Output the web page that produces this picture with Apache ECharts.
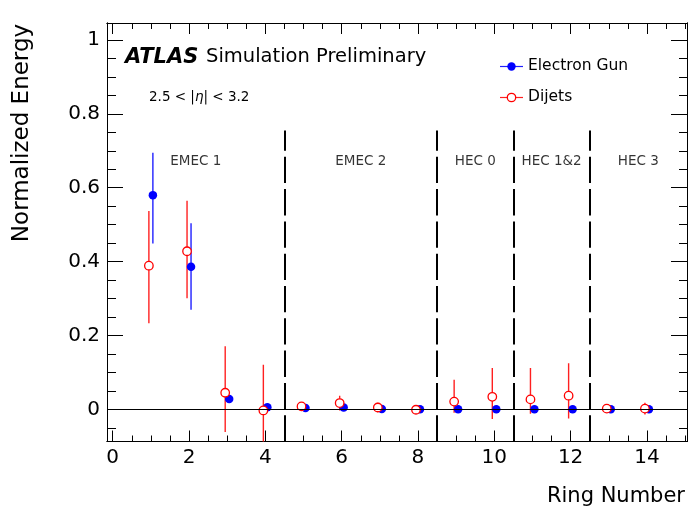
<!DOCTYPE html>
<html><head><meta charset="utf-8">
<script src="https://cdn.jsdelivr.net/npm/echarts@6/dist/echarts.min.js"></script>
<style>html,body{margin:0;padding:0;background:#fff}#c{width:689px;height:508px}</style>
</head><body><div id="c"></div>
<script>
// ---- data ----
const rings = [1,2,3,4,5,6,7,8,9,10,11,12,13,14];
const egVal      = [0.580,0.386,0.028,0.006,0.004,0.005,0.001,0.000,0.000,0.000,0.000,0.000,0.000,0.000];
const egErrUp    = [0.115,0.118,0.004,0.003,0.001,0.001,0.001,0.001,0.000,0.000,0.000,0.000,0.000,0.000];
const egErrDown  = [0.131,0.116,0.004,0.003,0.001,0.001,0.001,0.001,0.000,0.000,0.000,0.000,0.000,0.000];
const djVal      = [0.389,0.428,0.045,-0.003,0.008,0.017,0.005,-0.001,0.021,0.034,0.027,0.037,0.002,0.002];
const djErrUp    = [0.148,0.137,0.126,0.124,0.004,0.020,0.013,0.011,0.059,0.078,0.085,0.088,0.003,0.016];
const djErrDown  = [0.156,0.127,0.106,0.124,0.004,0.020,0.013,0.011,0.030,0.060,0.039,0.062,0.003,0.016];
const xTicks = [0,2,4,6,8,10,12,14];
const yTicks = [0,0.2,0.4,0.6,0.8,1];
const yTickLabels = ['0','0.2','0.4','0.6','0.8','1'];
const boundaries = [4.5,8.5,10.5,12.5];
const regionNames = ['EMEC 1','EMEC 2','HEC 0','HEC 1&2','HEC 3'];
const seriesNames = ['Electron Gun','Dijets'];

// ---- layout / style ----
const xMin = -0.15, xMax = 15.05, yMin = -0.087, yMax = 1.046;
const FONT = 'DejaVu Sans';
const BLUE = '#0000ff', BLUE_BAR = '#2020ff', RED = '#ff0000', RED_BAR = '#ff2020';

const xMinor = []; for (let v = 0; v <= 15.001; v += 0.5) xMinor.push(+v.toFixed(2));
const yMinor = []; for (let v = -0.05; v <= 1.0001; v += 0.05) yMinor.push(+v.toFixed(3));

const regionEdges = [xMin].concat(boundaries, [xMax]);
const regionCenters = regionNames.map((n, i) => (regionEdges[i] + regionEdges[i+1]) / 2);

function axisX(pos, ticks, len, labels) {
  return {
    type:'value', min:xMin, max:xMax, position:pos, gridIndex:0,
    axisLine:{show:true, onZero:false, lineStyle:{color:'#000', width:1}},
    axisTick:{show:true, inside:true, length:len, customValues:ticks, lineStyle:{color:'#000', width:1}},
    axisLabel: labels ? {show:true, customValues:ticks, margin:6, fontSize:20, fontFamily:FONT, color:'#000'} : {show:false},
    splitLine:{show:false}
  };
}
function axisY(pos, ticks, len, labels) {
  return {
    type:'value', min:yMin, max:yMax, position:pos, gridIndex:0,
    axisLine:{show:true, onZero:false, lineStyle:{color:'#000', width:1}},
    axisTick:{show:true, inside:true, length:len, customValues:ticks, lineStyle:{color:'#000', width:1}},
    axisLabel: labels ? {show:true, customValues:ticks, margin:7, fontSize:20, fontFamily:FONT, color:'#000',
      formatter: v => { const k = yTicks.findIndex(t => Math.abs(t - v) < 1e-9); return k >= 0 ? yTickLabels[k] : ''; }} : {show:false},
    splitLine:{show:false}
  };
}

function errSeries(name, vals, up, down, color, dx) {
  return {
    type:'custom', name:name + ' err', xAxisIndex:0, yAxisIndex:0, clip:true, silent:true, z:2,
    data: rings.map((r, i) => [r, vals[i] - down[i], vals[i] + up[i]]),
    encode:{x:0, y:[1,2]},
    renderItem: (params, api) => {
      const p1 = api.coord([api.value(0), api.value(2)]);
      const p2 = api.coord([api.value(0), api.value(1)]);
      const x = p1[0] + dx;
      return {type:'line', shape:{x1:x, y1:p1[1], x2:x, y2:p2[1]},
              style:{stroke:color, lineWidth:1.4}};
    }
  };
}

const chart = echarts.init(document.getElementById('c'), null, {renderer:'canvas'});
chart.setOption({
  animation:false,
  backgroundColor:'#fff',
  grid:{left:107, right:2, top:23, bottom:66.5, containLabel:false},
  xAxis:[ axisX('bottom', xTicks, 11, true), axisX('bottom', xMinor, 6, false),
          axisX('top', xTicks, 11, false), axisX('top', xMinor, 6, false) ],
  yAxis:[ axisY('left', yTicks, 16, true), axisY('left', yMinor, 9, false),
          axisY('right', yTicks, 16, false), axisY('right', yMinor, 8, false) ],
  series:[
    {
      type:'scatter', name:'regions', xAxisIndex:0, yAxisIndex:0, silent:true, z:1,
      symbolSize:0,
      data: regionNames.map((n, i) => ({value:[regionCenters[i], 0.67], name:n})),
      label:{show:true, position:'inside', formatter: p => p.name, fontSize:13.5, fontFamily:FONT, color:'#000'},
      markLine:{
        silent:true, symbol:'none', animation:false, label:{show:false},
        data: [
          {yAxis:0, lineStyle:{color:'#000', width:1, type:'solid'}}
        ].concat(boundaries.map(b => [
          {coord:[b, yMin], lineStyle:{color:'#000', width:2, type:[26.3, 6]}},
          {coord:[b, 0.755]}
        ]))
      }
    },
    errSeries(seriesNames[0], egVal, egErrUp, egErrDown, BLUE_BAR, 2),
    errSeries(seriesNames[1], djVal, djErrUp, djErrDown, RED_BAR, -2),
    {
      type:'scatter', name:seriesNames[0], xAxisIndex:0, yAxisIndex:0, z:3,
      data: rings.map((r, i) => [r, egVal[i]]),
      symbol:'circle', symbolSize:8.5, symbolOffset:[2,0],
      itemStyle:{color:BLUE, opacity:1}
    },
    {
      type:'scatter', name:seriesNames[1], xAxisIndex:0, yAxisIndex:0, z:4,
      data: rings.map((r, i) => [r, djVal[i]]),
      symbol:'circle', symbolSize:8.5, symbolOffset:[-2,0],
      itemStyle:{color:'#fff', borderColor:RED, borderWidth:1.3, opacity:1}
    }
  ],
  graphic:[
    {type:'text', left:125, top:47, style:{text:'ATLAS', font:'italic bold 21px "DejaVu Sans"', fill:'#000'}},
    {type:'text', left:206, top:47, style:{text:'Simulation Preliminary', font:'19.5px "DejaVu Sans"', fill:'#000'}},
    {type:'text', left:149, top:90, style:{text:'2.5 < |{i|η}| < 3.2', font:'13.5px "DejaVu Sans"', fill:'#000',
      rich:{i:{fontStyle:'italic', fontSize:13.5, fontFamily:FONT}}}},
    // legend
    {type:'line', shape:{x1:500, y1:66.5, x2:523, y2:66.5}, style:{stroke:BLUE_BAR, lineWidth:1.2}},
    {type:'circle', shape:{cx:511.5, cy:66.5, r:4.2}, style:{fill:BLUE}},
    {type:'text', left:528, top:58, style:{text:seriesNames[0], font:'15.5px "DejaVu Sans"', fill:'#000'}},
    {type:'line', shape:{x1:500, y1:97.5, x2:523, y2:97.5}, style:{stroke:RED_BAR, lineWidth:1.2}},
    {type:'circle', shape:{cx:511.5, cy:97.5, r:4.2}, style:{fill:'#fff', stroke:RED, lineWidth:1.3}},
    {type:'text', left:528, top:89, style:{text:seriesNames[1], font:'15.5px "DejaVu Sans"', fill:'#000'}},
    // axis titles
    {type:'text', x:22, y:133, rotation:Math.PI/2,
      style:{text:'Normalized Energy', font:'23px "DejaVu Sans"', fill:'#000', align:'center', verticalAlign:'middle'}},
    {type:'text', x:685, y:497,
      style:{text:'Ring Number', font:'21px "DejaVu Sans"', fill:'#000', align:'right', verticalAlign:'middle'}}
  ]
});
</script>
</body></html>
